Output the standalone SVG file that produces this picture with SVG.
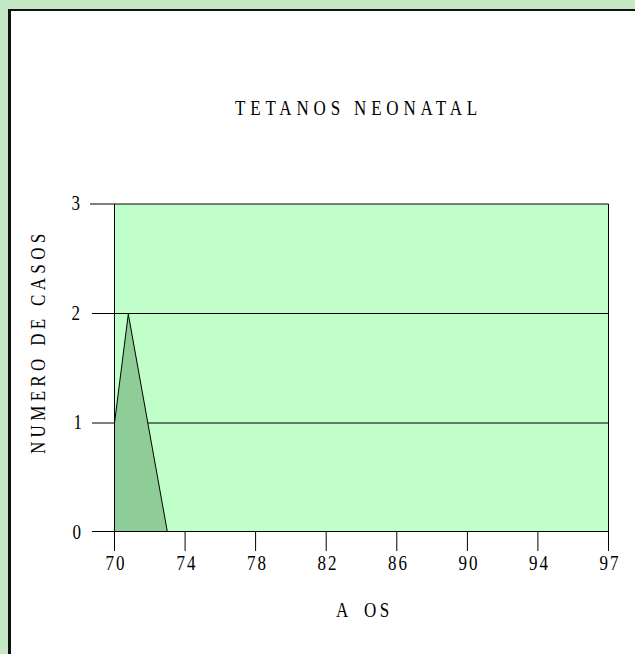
<svg xmlns="http://www.w3.org/2000/svg" width="635" height="654" viewBox="0 0 635 654">
<style>
text{font-family:"Liberation Serif","Times New Roman",serif;fill:#000;font-size:20px}
.title{letter-spacing:5.7px}
.ylab{letter-spacing:5.1px}
.tick{letter-spacing:2.5px;text-anchor:middle}
.ynum{text-anchor:end}
.axt{letter-spacing:4px}
.ln{stroke:#000;stroke-width:1;fill:none}
</style>
<rect x="0" y="0" width="635" height="654" fill="#c5e8c5"/>
<rect x="8" y="9" width="627" height="645" fill="#ffffff"/>
<rect x="8" y="9" width="3" height="645" fill="#111"/>
<rect x="8" y="9" width="627" height="2" fill="#111"/>
<g id="title"><text class="title" transform="translate(235,115) scale(0.85,1)">TETANOS NEONATAL</text></g>
<g id="plot">
<rect x="114.5" y="204" width="494" height="327.5" fill="#c0ffc9"/>
</g>
<g id="gridlines">
<line class="ln" x1="90" y1="204" x2="608.5" y2="204"/>
<line class="ln" x1="92" y1="313.5" x2="608.5" y2="313.5"/>
<line class="ln" x1="92" y1="423" x2="608.5" y2="423"/>
</g>
<g id="series">
<polygon points="114.5,531.5 114.5,423 128.3,314 167.3,531.5" fill="#8ecc98" stroke="#000" stroke-width="1"/>
</g>
<g id="axes">
<line class="ln" x1="92" y1="531.5" x2="608.5" y2="531.5"/>
<line class="ln" x1="114.5" y1="204" x2="114.5" y2="551"/>
<line class="ln" x1="608.5" y1="204" x2="608.5" y2="551"/>
<line class="ln" x1="185.1" y1="531.5" x2="185.1" y2="551"/>
<line class="ln" x1="255.6" y1="531.5" x2="255.6" y2="551"/>
<line class="ln" x1="326.2" y1="531.5" x2="326.2" y2="551"/>
<line class="ln" x1="396.8" y1="531.5" x2="396.8" y2="551"/>
<line class="ln" x1="467.4" y1="531.5" x2="467.4" y2="551"/>
<line class="ln" x1="537.9" y1="531.5" x2="537.9" y2="551"/>
</g>
<g id="ylabels">
<text class="ynum" transform="translate(80,210) scale(0.85,1)">3</text>
<text class="ynum" transform="translate(80,320) scale(0.85,1)">2</text>
<text class="ynum" transform="translate(82,429) scale(0.85,1)">1</text>
<text class="ynum" transform="translate(81,539) scale(0.85,1)">0</text>
</g>
<g id="xlabels">
<text class="tick" transform="translate(116,570) scale(0.85,1)">70</text>
<text class="tick" transform="translate(187,570) scale(0.85,1)">74</text>
<text class="tick" transform="translate(257.5,570) scale(0.85,1)">78</text>
<text class="tick" transform="translate(328,570) scale(0.85,1)">82</text>
<text class="tick" transform="translate(398.5,570) scale(0.85,1)">86</text>
<text class="tick" transform="translate(469,570) scale(0.85,1)">90</text>
<text class="tick" transform="translate(539.5,570) scale(0.85,1)">94</text>
<text class="tick" transform="translate(610,570) scale(0.85,1)">97</text>
</g>
<g id="yaxis-title"><text class="ylab" transform="translate(45,454) rotate(-90) scale(0.85,1)">NUMERO DE CASOS</text></g>
<g id="xaxis-title"><text class="axt" transform="translate(336,617) scale(0.85,1)">A<tspan x="33">OS</tspan></text></g>
</svg>
